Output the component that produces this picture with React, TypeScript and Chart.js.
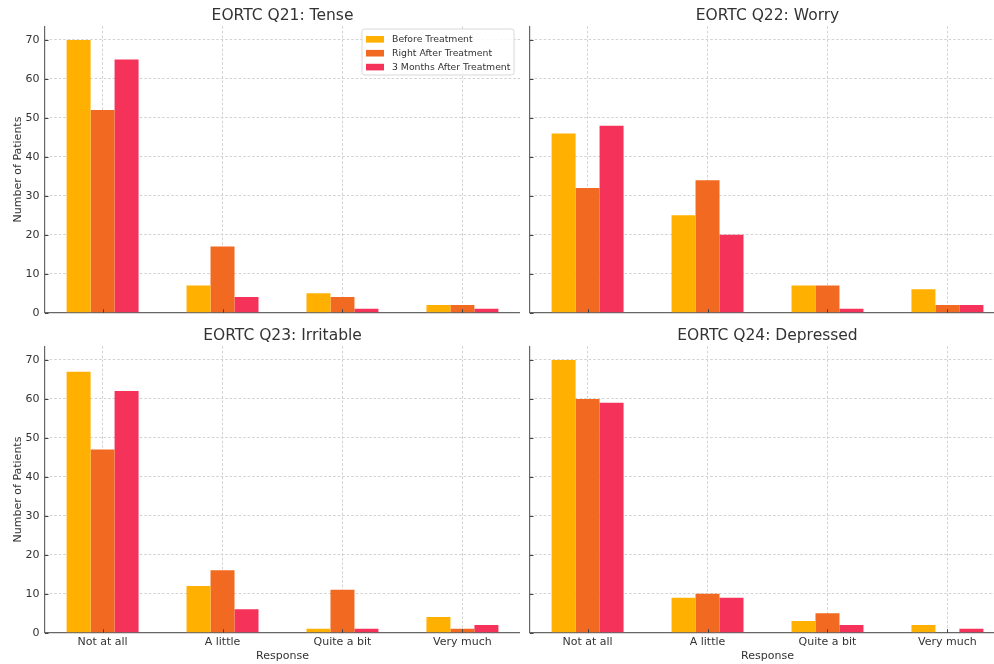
import React, { useEffect, useRef } from 'react';
import { Chart, registerables } from 'chart.js';

Chart.register(...registerables);
Chart.defaults.font.family = "'DejaVu Sans', sans-serif";
Chart.defaults.color = '#333333';

// ---- Data ----
const categories = ['Not at all', 'A little', 'Quite a bit', 'Very much'];
const seriesLabels = ['Before Treatment', 'Right After Treatment', '3 Months After Treatment'];
const seriesColors = ['#FFB000', '#F26A21', '#F5325A'];
const yTicks = [0, 10, 20, 30, 40, 50, 60, 70];

const q21Before = [70, 7, 5, 2];
const q21After = [52, 17, 4, 2];
const q21ThreeMonths = [65, 4, 1, 1];

const q22Before = [46, 25, 7, 6];
const q22After = [32, 34, 7, 2];
const q22ThreeMonths = [48, 20, 1, 2];

const q23Before = [67, 12, 1, 4];
const q23After = [47, 16, 11, 1];
const q23ThreeMonths = [62, 6, 1, 2];

const q24Before = [70, 9, 3, 2];
const q24After = [60, 10, 5, 0];
const q24ThreeMonths = [59, 9, 2, 1];

const panelTitles = ['EORTC Q21: Tense', 'EORTC Q22: Worry', 'EORTC Q23: Irritable', 'EORTC Q24: Depressed'];
const yAxisTitle = 'Number of Patients';
const xAxisTitle = 'Response';

// ---- Plugins ----
const inwardTicks = {
  id: 'inwardTicks',
  afterDraw(chart: any) {
    const { ctx, chartArea } = chart;
    const xs = chart.scales.x;
    const ys = chart.scales.y;
    ctx.save();
    ctx.strokeStyle = '#444444';
    ctx.lineWidth = 1;
    ctx.beginPath();
    xs.ticks.forEach((t: any) => {
      const px = Math.round(xs.getPixelForValue(t.value)) + 0.5;
      ctx.moveTo(px, chartArea.bottom);
      ctx.lineTo(px, chartArea.bottom - 3.5);
    });
    ys.ticks.forEach((t: any) => {
      const py = Math.round(ys.getPixelForValue(t.value)) + 0.5;
      ctx.moveTo(chartArea.left, py);
      ctx.lineTo(chartArea.left + 3.5, py);
    });
    ctx.stroke();
    ctx.restore();
  },
};

const boxLegend = {
  id: 'boxLegend',
  afterDraw(chart: any) {
    const { ctx, chartArea } = chart;
    const w = 152;
    const h = 46;
    const x0 = chartArea.right - 6 - w;
    const y0 = chartArea.top + 2.7;
    ctx.save();
    ctx.beginPath();
    const r = 2.5;
    ctx.moveTo(x0 + r, y0);
    ctx.lineTo(x0 + w - r, y0);
    ctx.quadraticCurveTo(x0 + w, y0, x0 + w, y0 + r);
    ctx.lineTo(x0 + w, y0 + h - r);
    ctx.quadraticCurveTo(x0 + w, y0 + h, x0 + w - r, y0 + h);
    ctx.lineTo(x0 + r, y0 + h);
    ctx.quadraticCurveTo(x0, y0 + h, x0, y0 + h - r);
    ctx.lineTo(x0, y0 + r);
    ctx.quadraticCurveTo(x0, y0, x0 + r, y0);
    ctx.closePath();
    ctx.fillStyle = 'rgba(255,255,255,0.85)';
    ctx.fill();
    ctx.strokeStyle = '#d8d8d8';
    ctx.lineWidth = 1;
    ctx.stroke();
    chart.data.datasets.forEach((ds: any, i: number) => {
      const cy = y0 + 10.3 + i * 13.9;
      ctx.fillStyle = ds.backgroundColor;
      ctx.fillRect(x0 + 4, cy - 3.3, 18, 6.6);
      ctx.fillStyle = '#333333';
      ctx.font = "9.3px 'DejaVu Sans', sans-serif";
      ctx.textBaseline = 'middle';
      ctx.textAlign = 'left';
      ctx.fillText(ds.label, x0 + 30, cy);
    });
    ctx.restore();
  },
};

type PanelProps = {
  title: string;
  series: number[][];
  left: number;
  top: number;
  width: number;
  height: number;
  yw: number;
  xh: number;
  showY: boolean;
  showX: boolean;
  legend: boolean;
};

function Panel(p: PanelProps) {
  const ref = useRef<HTMLCanvasElement | null>(null);
  useEffect(() => {
    if (!ref.current) return;
    const gridColor = (c: any) => (c.tick && c.tick.value === 0 ? 'rgba(0,0,0,0)' : '#d2d2d2');
    const chart = new Chart(ref.current, {
      type: 'bar',
      data: {
        datasets: p.series.map((vals, si) => ({
          label: seriesLabels[si],
          data: vals.map((v, i) => ({ x: i, y: v })),
          backgroundColor: seriesColors[si],
          borderWidth: 0,
          categoryPercentage: 0.6,
          barPercentage: 1.0,
        })),
      },
      options: {
        responsive: false,
        animation: false,
        events: [],
        layout: { padding: 0 },
        plugins: {
          legend: { display: false },
          tooltip: { enabled: false },
          title: {
            display: true,
            text: p.title,
            fullSize: false,
            color: '#333333',
            font: { size: 15.5, weight: 'normal' },
            padding: { top: 6.7, bottom: 1.0 },
          },
        },
        scales: {
          x: {
            type: 'linear',
            min: -0.48,
            max: 3.48,
            offset: false,
            z: 1,
            afterBuildTicks: (s: any) => {
              s.ticks = categories.map((_, i) => ({ value: i }));
            },
            afterFit: (s: any) => {
              s.height = p.xh;
            },
            ticks: {
              display: p.showX,
              autoSkip: false,
              maxRotation: 0,
              padding: 3,
              color: '#333333',
              font: { size: 11 },
              callback: (v: any) => categories[v as number] ?? '',
            },
            grid: { color: '#d2d2d2', lineWidth: 1, drawTicks: false, offset: false },
            border: { display: true, color: '#666666', width: 1.2, dash: [2.5, 2] },
            title: {
              display: p.showX,
              text: xAxisTitle,
              color: '#333333',
              font: { size: 11 },
              padding: { top: 0, bottom: 1 },
            },
          },
          y: {
            type: 'linear',
            min: 0,
            max: 73.5,
            z: 1,
            afterBuildTicks: (s: any) => {
              s.ticks = yTicks.map((v) => ({ value: v }));
            },
            afterFit: (s: any) => {
              s.width = p.yw;
            },
            ticks: {
              display: p.showY,
              padding: 5.5,
              color: '#333333',
              font: { size: 11 },
            },
            grid: { color: gridColor, lineWidth: 1, drawTicks: false },
            border: { display: true, color: '#666666', width: 1.2, dash: [2.5, 2] },
            title: {
              display: p.showY,
              text: yAxisTitle,
              color: '#333333',
              font: { size: 11 },
              padding: { top: 11.4, bottom: 0 },
            },
          },
        },
      } as any,
      plugins: p.legend ? [inwardTicks, boxLegend] : [inwardTicks],
    });
    return () => chart.destroy();
  }, []);
  return (
    <canvas
      ref={ref}
      width={p.width}
      height={p.height}
      style={{ position: 'absolute', left: p.left, top: p.top, width: p.width, height: p.height }}
    />
  );
}

const panels: PanelProps[] = [
  { title: panelTitles[0], series: [q21Before, q21After, q21ThreeMonths], left: 0, top: 0, width: 520, height: 330, yw: 45, xh: 17.3, showY: true, showX: false, legend: true },
  { title: panelTitles[1], series: [q22Before, q22After, q22ThreeMonths], left: 520, top: 0, width: 485, height: 330, yw: 10, xh: 17.3, showY: false, showX: false, legend: false },
  { title: panelTitles[2], series: [q23Before, q23After, q23ThreeMonths], left: 0, top: 320, width: 520, height: 344, yw: 45, xh: 31.3, showY: true, showX: true, legend: false },
  { title: panelTitles[3], series: [q24Before, q24After, q24ThreeMonths], left: 520, top: 320, width: 485, height: 344, yw: 10, xh: 31.3, showY: false, showX: true, legend: false },
];

export default function App() {
  return (
    <div style={{ position: 'fixed', left: 0, top: 0, width: 994, height: 664, overflow: 'hidden', background: '#ffffff' }}>
      {panels.map((p, i) => (
        <Panel key={i} {...p} />
      ))}
    </div>
  );
}
